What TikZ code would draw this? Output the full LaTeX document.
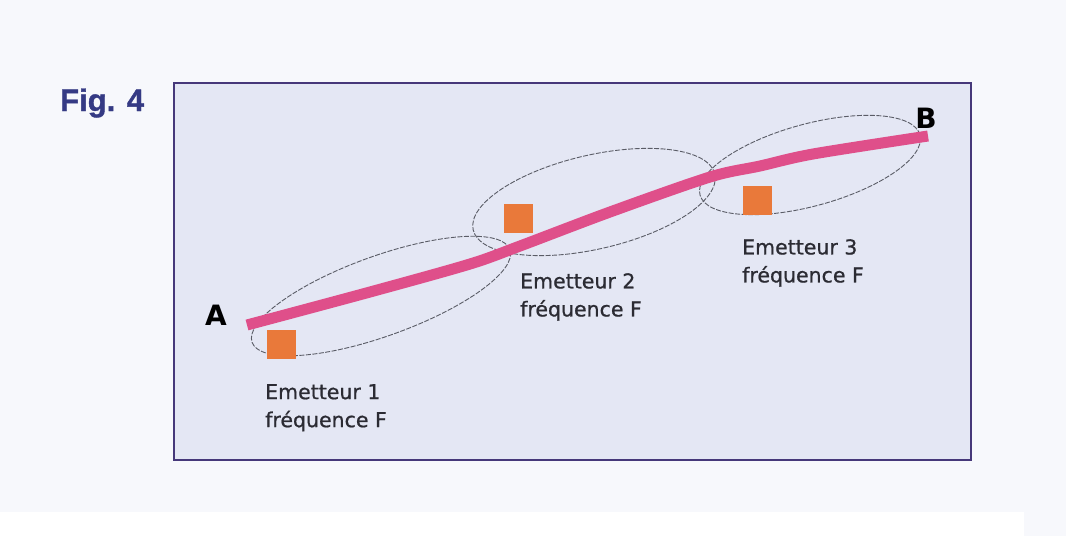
\documentclass[tikz,border=0pt]{standalone}
\usepackage{fontspec}
\setmainfont{DejaVu Sans}
\newfontfamily\lblfont[FakeBold=0.8]{DejaVu Sans}
\newfontfamily\figfont[FakeBold=1.2]{Liberation Sans}
\definecolor{bgout}{HTML}{F7F8FC}
\definecolor{framecol}{HTML}{46387A}
\definecolor{framefill}{HTML}{E4E7F4}
\definecolor{pinkline}{HTML}{DF4F8A}
\definecolor{orangesq}{HTML}{E9793A}
\definecolor{figblue}{HTML}{353A84}
\definecolor{labelgray}{HTML}{2B2B33}
\definecolor{ellgray}{HTML}{5A5C66}
\tikzset{
  emit/.style={draw=none, fill=orangesq, minimum size=29pt, inner sep=0pt},
  lbl/.style={anchor=north west, align=left, inner sep=0pt, text=labelgray,
    font=\lblfont\fontsize{20.5}{28}\selectfont},
  endpt/.style={font=\bfseries\fontsize{28}{28}\selectfont, text=black, inner sep=0pt},
  lobe/.style={draw=ellgray, line width=0.9pt, dash pattern=on 5pt off 1.5pt},
  track/.style={draw=pinkline, line width=11pt, line cap=butt}
}
\begin{document}
\begin{tikzpicture}[x=1pt,y=-1pt]
\useasboundingbox (0,0) rectangle (1066,536);
\fill[bgout] (0,0) rectangle (1066,536);
\fill[white] (0,512) rectangle (1024,536);
% frame
\draw[framecol, fill=framefill, line width=2.2pt] (174,83) rectangle (971,460);
% caption
\node[anchor=base west, inner sep=0pt, text=figblue, font=\figfont\bfseries\fontsize{31}{31}\selectfont] (fig) at (60,111) {Fig. 4};
% lobes
\draw[lobe, rotate around={19.8:(381,296)}] (381,296) ellipse [x radius=137pt, y radius=40pt];
\draw[lobe, rotate around={13:(594,202)}] (594,202) ellipse [x radius=124pt, y radius=47pt];
\draw[lobe, rotate around={15.3:(810,165)}] (810,165) ellipse [x radius=114pt, y radius=41pt];
% track
\coordinate (A) at (247,325);
\coordinate (B) at (928,136);
\draw[track] plot[smooth, tension=0.5] coordinates {(A) (370,292) (470,264) (520,246) (610,212) (710,177) (760,166) (813,154) (B)};
% endpoints
\node[endpt, anchor=base] (la) at (216,325) {A};
\node[endpt, anchor=base] (lb) at (926,128) {B};
% emitters
\node[emit] (e1) at (281,344) {};
\node[emit] (e2) at (518,218) {};
\node[emit] (e3) at (757,200) {};
% labels
\node[lbl] (t1) at (265,384) {Emetteur 1\\fréquence F};
\node[lbl] (t2) at (520,273) {Emetteur 2\\fréquence F};
\node[lbl] (t3) at (742,239) {Emetteur 3\\fréquence F};
\end{tikzpicture}
\end{document}
